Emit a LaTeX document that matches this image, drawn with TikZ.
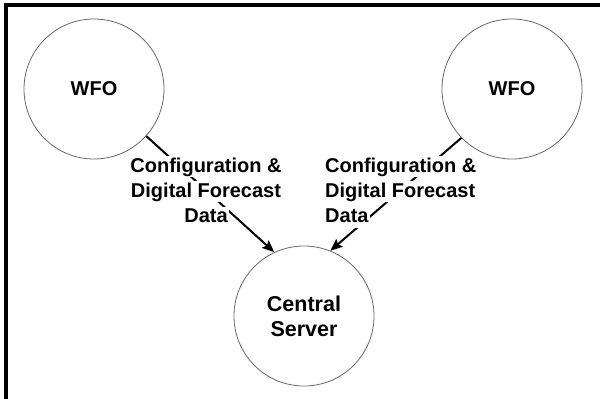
\documentclass[tikz,border=0pt]{standalone}
\usepackage{fontspec}
\setmainfont{Liberation Sans}
\usetikzlibrary{arrows.meta,positioning}

\begin{document}
\begin{tikzpicture}[x=1pt,y=-1pt,>={Stealth[length=12pt,width=10pt,inset=2pt]},
            site node/.style={circle,draw=black!60,line width=0.8pt,minimum size=140pt,
            inner sep=0pt,align=center,font=\fontsize{20}{25}\selectfont\bfseries},
            flow/.style={->,line width=2pt},
            label line/.style={fill=white,inner sep=1pt,text height=15pt,text depth=4pt,
            font=\fontsize{20}{25}\selectfont\bfseries}]

            \useasboundingbox (0,0) rectangle (600,399);
            \draw [line width=4pt] (6,399) -- (6,4.5) -- (600,4.5);

            \node[site node] (WFOLeft) at (94,89) {WFO};
            \node[site node] (WFORight) at (512,89) {WFO};
            \node[site node, font=\fontsize{21.5}{25}\selectfont\bfseries] (CentralServer) at (304,316) {Central\\Server};

            \draw [flow] (WFOLeft.-42) -- (CentralServer.115);
            \draw [flow] (WFORight.-136) -- (CentralServer.68);

            \node[label line] (LeftConfig) at (206,166.5) {Configuration \&};
            \node[label line] (LeftForecast) [below=4pt of LeftConfig] {Digital Forecast};
            \node[label line] (LeftData) [below=4pt of LeftForecast] {Data};

            \node[label line, anchor=west] (RightConfig) at (324,166.5) {Configuration \&};
            \node[label line] (RightForecast) [below=4pt of RightConfig.south west, anchor=north west] {Digital Forecast};
            \node[label line] (RightData) [below=4pt of RightForecast.south west, anchor=north west] {Data};
          \end{tikzpicture}
\end{document}
